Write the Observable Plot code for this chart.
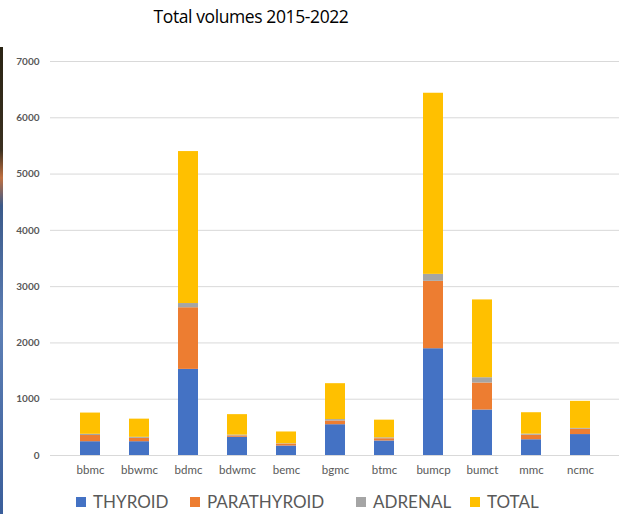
<!DOCTYPE html>
<html>
<head>
<meta charset="utf-8">
<script src="https://cdn.jsdelivr.net/npm/d3@7"></script>
<script src="https://cdn.jsdelivr.net/npm/@observablehq/plot@0.6"></script>
<style>
  html, body { margin: 0; padding: 0; background: #fff; }
  #wrap { position: relative; width: 619px; height: 514px; overflow: hidden; font-family: Lato, "Open Sans", sans-serif; }
  #strip { position: absolute; left: 0; top: 47px; width: 3px; height: 467px;
    background: linear-gradient(#2a2414 0%, #3a3020 22%, #c07040 28%, #3b5a8a 34%, #5d7fb5 60%, #3a5e9a 100%); }
  #title { position: absolute; left: 0; top: 4px; width: 502px; text-align: center; font-size: 17.5px; color: #000; font-family: "Open Sans", Lato, sans-serif; letter-spacing: -0.4px; }
  #chart { position: absolute; left: 0; top: 40px; }
  #legend { position: absolute; left: 0; top: 491px; width: 619px; height: 23px; }
  .item { position: absolute; top: 0; display: flex; align-items: center; font-size: 17px; color: #595959; }
  .sw { width: 10px; height: 10px; margin-right: 7px; }
</style>
</head>
<body>
<div id="wrap">
  <div id="strip"></div>
  <div id="title">Total volumes 2015-2022</div>
  <div id="chart"></div>
  <div id="legend"></div>
</div>
<script>
const categories = ["bbmc","bbwmc","bdmc","bdwmc","bemc","bgmc","btmc","bumcp","bumct","mmc","ncmc"];
const thyroid     = [245, 245, 1530, 323, 168, 547, 258, 1897, 808, 280, 372];
const parathyroid = [110,  60, 1095,  25,  35,  66,  40, 1197, 480,  80,  95];
const adrenal     = [ 22,  18,   75,  15,   6,  25,  16,  124,  94,  20,  14];
const total       = [377, 323, 2700, 363, 209, 638, 314, 3218, 1382, 380, 481];
const seriesNames = ["THYROID","PARATHYROID","ADRENAL","TOTAL"];
const seriesColors = ["#4472C4","#ED7D31","#A5A5A5","#FFC000"];
const yTicks = [0,1000,2000,3000,4000,5000,6000,7000];

const seriesValues = [thyroid, parathyroid, adrenal, total];
const data = [];
seriesNames.forEach((s, i) => {
  categories.forEach((c, j) => data.push({category: c, series: s, value: seriesValues[i][j]}));
});

const chart = Plot.plot({
  width: 619,
  height: 440,
  marginLeft: 50,
  marginRight: 0,
  marginTop: 21,
  marginBottom: 25,
  style: {fontFamily: "Lato, sans-serif", background: "transparent"},
  x: {domain: categories, padding: 0.6, label: null},
  y: {domain: [0, 7000], label: null},
  color: {domain: seriesNames, range: seriesColors},
  marks: [
    Plot.ruleY(yTicks, {stroke: "#d9d9d9", strokeWidth: 1}),
    Plot.barY(data, {x: "category", y: "value", fill: "series", order: seriesNames}),
    Plot.axisY({ticks: yTicks, tickSize: 0, tickPadding: 11, tickFormat: d => String(d), fontSize: 10, fontWeight: 700, fill: "#595959", label: null}),
    Plot.axisX({tickSize: 0, tickPadding: 10, fontSize: 11.5, fill: "#595959", label: null})
  ]
});
document.getElementById("chart").appendChild(chart);

const legendX = [76, 190, 356, 470];
const legend = document.getElementById("legend");
seriesNames.forEach((s, i) => {
  const item = document.createElement("div");
  item.className = "item";
  item.style.left = legendX[i] + "px";
  const sw = document.createElement("div");
  sw.className = "sw";
  sw.style.background = seriesColors[i];
  const t = document.createElement("span");
  t.textContent = s;
  item.appendChild(sw);
  item.appendChild(t);
  legend.appendChild(item);
});
</script>
</body>
</html>
